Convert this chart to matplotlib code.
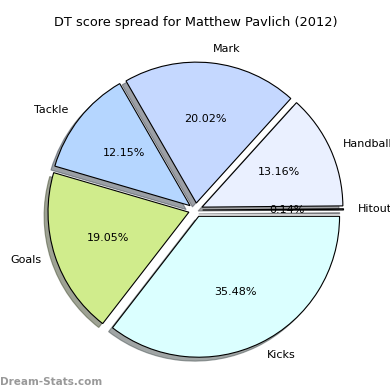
import matplotlib
matplotlib.use('Agg')
import matplotlib.pyplot as plt

# 데이터
labels = ['Hitout', 'Handball', 'Mark', 'Tackle', 'Goals', 'Kicks']
values = [0.14, 13.16, 20.02, 12.15, 19.05, 35.48]
colors = ['#eaf0ff', '#eaf0ff', '#c5d8ff', '#b5d6ff', '#d0ec8c', '#dbffff']
explode = [0.05] * len(values)

fig = plt.figure(figsize=(3.9, 3.9), dpi=100)
ax = fig.add_axes([0.05, 0.01, 0.903, 0.903])

wedges, texts, autotexts = ax.pie(values, labels=labels, colors=colors, explode=explode,
                                  autopct='%1.2f%%', shadow=True, startangle=0,
                                  wedgeprops={'edgecolor': 'black', 'linewidth': 0.8},
                                  textprops={'fontsize': 8})
ax.set_title('DT score spread for Matthew Pavlich (2012)', fontsize=9.3)
ax.set_aspect('equal')

# 워터마크
fig.text(0.0, 0.012, 'Dream-Stats.com', fontsize=7.5, color='#999999', fontweight='bold')

plt.savefig('out.png', dpi=100)
